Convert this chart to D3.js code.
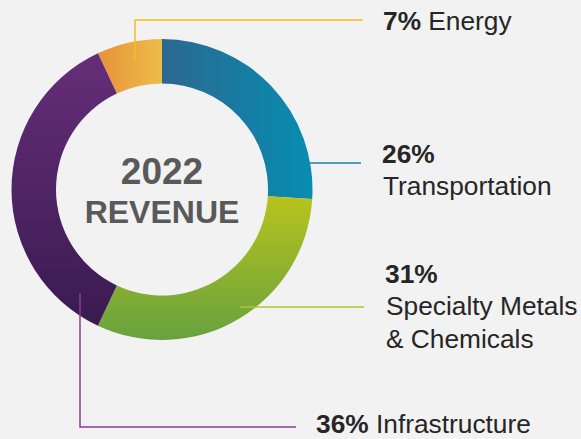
<!DOCTYPE html>
<html>
<head>
<meta charset="utf-8">
<script src="https://cdn.jsdelivr.net/npm/d3@7"></script>
<style>
  html, body { margin: 0; padding: 0; background: #f2f2f2; }
  svg { display: block; }
</style>
</head>
<body>
<div id="chart"></div>
<script>
// ---- data ----
const categories = ["Energy", "Transportation", "Specialty Metals & Chemicals", "Infrastructure"];
const values = [7, 26, 31, 36];
const pctLabels = ["7%", "26%", "31%", "36%"];
const nameLines = [["Energy"], ["Transportation"], ["Specialty Metals", "& Chemicals"], ["Infrastructure"]];
const centerTitle = ["2022", "REVENUE"];

// ---- styles ----
const gradients = [
  { dir: "h", from: "#e8913b", to: "#edbd49" },
  { dir: "h", from: "#2b6891", to: "#078db1" },
  { dir: "v", from: "#b8c31d", to: "#67a23f" },
  { dir: "v", from: "#652e78", to: "#3a1a50" }
];
const leaderColors = ["#f5bf1c", "#1e7fb4", "#b4c62a", "#8c3a98"];

const W = 581, H = 439;
const cx = 162, cy = 189.5, rOuter = 150.5, rInner = 106;

const svg = d3.select("#chart").append("svg")
  .attr("width", W).attr("height", H)
  .style("background", "#f2f2f2");

const defs = svg.append("defs");
gradients.forEach((g, i) => {
  const lg = defs.append("linearGradient").attr("id", "grad" + i)
    .attr("x1", 0).attr("y1", 0)
    .attr("x2", g.dir === "h" ? 1 : 0).attr("y2", g.dir === "h" ? 0 : 1);
  lg.append("stop").attr("offset", "0%").attr("stop-color", g.from);
  lg.append("stop").attr("offset", "100%").attr("stop-color", g.to);
});

const start = -2 * Math.PI * values[0] / d3.sum(values);
const pie = d3.pie().sort(null).value(d => d).startAngle(start).endAngle(start + 2 * Math.PI);
const arc = d3.arc().innerRadius(rInner).outerRadius(rOuter);

const g = svg.append("g").attr("transform", `translate(${cx},${cy})`);
g.selectAll("path").data(pie(values)).join("path")
  .attr("d", arc)
  .attr("fill", (d, i) => `url(#grad${i})`);

// center text
svg.append("text").attr("x", cx).attr("y", 184)
  .attr("text-anchor", "middle")
  .style("font-family", "'Liberation Sans', Arial, sans-serif")
  .style("font-weight", "bold").style("font-size", "37px").attr("fill", "#595959")
  .text(centerTitle[0]);
svg.append("text").attr("x", cx).attr("y", 223)
  .attr("text-anchor", "middle")
  .style("font-family", "'Liberation Sans', Arial, sans-serif")
  .style("font-weight", "bold").style("font-size", "32px").attr("fill", "#595959")
  .text(centerTitle[1]);

// leader lines (annotation layout)
const leaders = [
  [[135, 61], [135, 20], [363, 20]],
  [[306, 163], [361, 163]],
  [[240, 307], [364, 307]],
  [[80, 293], [80, 427], [296, 427]]
];
const line = d3.line();
leaders.forEach((pts, i) => {
  svg.append("path").attr("d", line(pts))
    .attr("fill", "none").attr("stroke", leaderColors[i]).attr("stroke-width", 1.5);
});

// labels
const labelLayout = [
  { x: 383, y: 30, inline: true },
  { x: 382, y: 163, inline: false },
  { x: 385, y: 283, inline: false },
  { x: 316, y: 433, inline: true }
];
const fontFam = "'Liberation Sans', Arial, sans-serif";
labelLayout.forEach((L, i) => {
  const t = svg.append("text").attr("x", L.x).attr("y", L.y)
    .style("font-family", fontFam).style("font-size", "26.3px").attr("fill", "#262626");
  t.append("tspan").style("font-weight", "bold").text(pctLabels[i]);
  if (L.inline) {
    t.append("tspan").text(" " + nameLines[i][0]);
  } else {
    nameLines[i].forEach((ln, j) => {
      t.append("tspan").attr("x", L.x + 1).attr("dy", j === 0 ? 32 : 32.5).text(ln);
    });
  }
});
</script>
</body>
</html>
